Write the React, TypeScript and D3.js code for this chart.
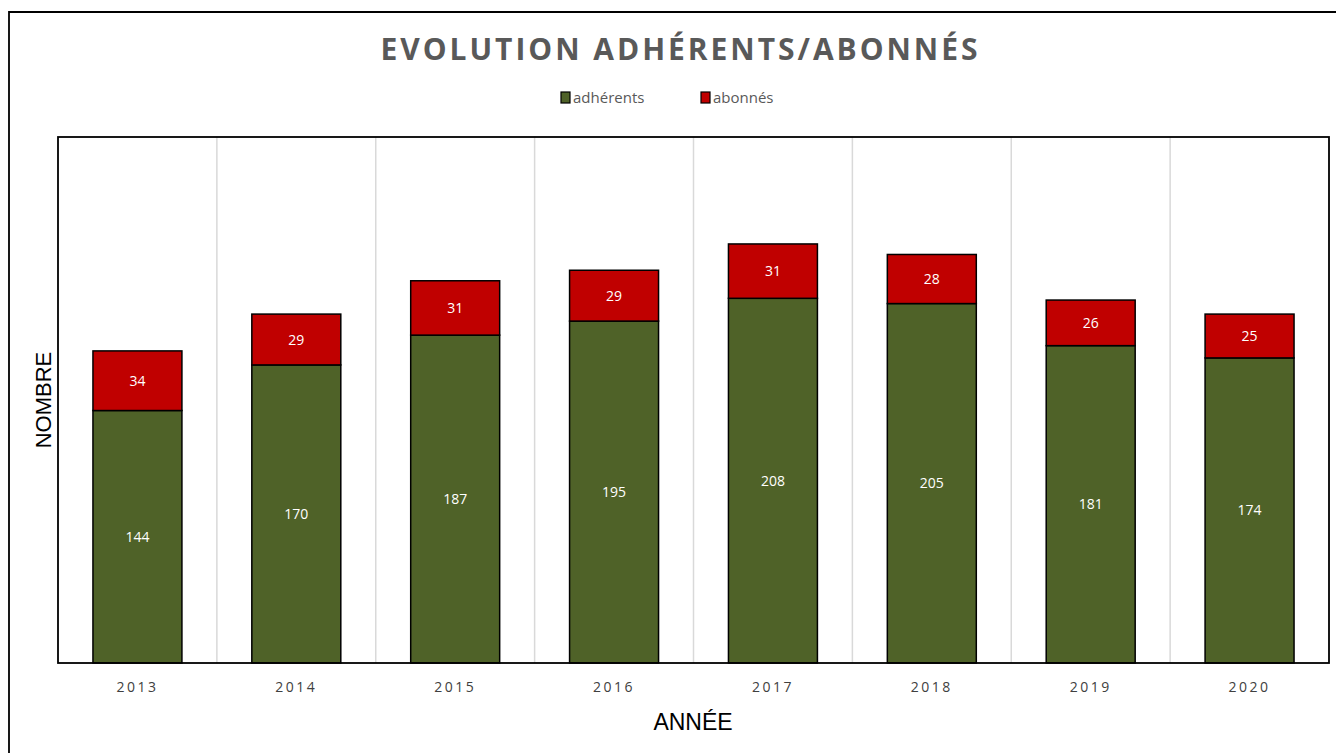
import React from "react";
import * as d3 from "d3";

const years = ["2013", "2014", "2015", "2016", "2017", "2018", "2019", "2020"];
const adherents = [144, 170, 187, 195, 208, 205, 181, 174];
const abonnes = [34, 29, 31, 29, 31, 28, 26, 25];
const seriesNames = ["adhérents", "abonnés"];
const seriesColors = ["#4F6228", "#C00000"];

const W = 1336;
const H = 753;
const margin = { left: 58, top: 137, right: 1329, bottom: 663 };

const App = () => {
  const x = d3
    .scaleBand<string>()
    .domain(years)
    .range([margin.left, margin.right])
    .paddingInner(0.44)
    .paddingOuter(0.22);
  const y = d3.scaleLinear().domain([0, 300]).range([margin.bottom, margin.top]);

  const rows = years.map((year, i) => ({ year, adherents: adherents[i], abonnes: abonnes[i] }));
  const stack = d3.stack<any>().keys(["adherents", "abonnes"]);
  const layers = stack(rows);

  const step = (margin.right - margin.left) / years.length;
  const grid = d3.range(1, years.length).map((i) => margin.left + i * step);

  return (
    <div style={{ position: "absolute", left: 0, top: 0 }}>
      <svg width={W} height={H} viewBox={`0 0 ${W} ${H}`} style={{ display: "block", background: "#fff" }}>
        {/* outer frame (cut off on right/bottom) */}
        <path d={`M${W},12 H9 V${H}`} fill="none" stroke="#000" strokeWidth={1.8} />

        <text
          x={679}
          y={60}
          textAnchor="middle"
          fontFamily="'Open Sans', sans-serif"
          fontWeight="bold"
          fontSize={30}
          fill="#595959"
          textLength={597}
          lengthAdjust="spacing"
        >
          EVOLUTION  ADHÉRENTS/ABONNÉS
        </text>

        {/* legend */}
        {seriesNames.map((name, i) => {
          const lx = i === 0 ? 561 : 701;
          return (
            <g key={name}>
              <rect x={lx} y={92} width={9} height={11} fill={seriesColors[i]} stroke="#000" strokeWidth={1.2} />
              <text x={lx + 12} y={103} fontFamily="'Liberation Sans Narrow', 'Open Sans', sans-serif" fontSize={15} fill="#595959">
                {name}
              </text>
            </g>
          );
        })}

        {/* gridlines */}
        {grid.map((gx) => (
          <line key={gx} x1={gx} x2={gx} y1={margin.top} y2={margin.bottom} stroke="#d9d9d9" strokeWidth={1.5} />
        ))}

        {/* bars */}
        {layers.map((layer, li) =>
          layer.map((d: any) => {
            const bx = x(d.data.year)!;
            const y0 = y(d[0]);
            const y1 = y(d[1]);
            return (
              <g key={`${li}-${d.data.year}`}>
                <rect
                  x={bx}
                  y={y1}
                  width={x.bandwidth()}
                  height={y0 - y1}
                  fill={seriesColors[li]}
                  stroke="#000"
                  strokeWidth={1.5}
                />
                <text
                  x={bx + x.bandwidth() / 2}
                  y={(y0 + y1) / 2 + 5}
                  textAnchor="middle"
                  fontFamily="'Open Sans', sans-serif"
                  fontSize={14}
                  fill="#fff"
                >
                  {d[1] - d[0]}
                </text>
              </g>
            );
          })
        )}

        {/* plot frame */}
        <rect
          x={margin.left}
          y={margin.top}
          width={margin.right - margin.left}
          height={margin.bottom - margin.top}
          fill="none"
          stroke="#000"
          strokeWidth={1.8}
        />

        {/* x tick labels */}
        {years.map((yr) => (
          <text
            key={yr}
            x={x(yr)! + x.bandwidth() / 2}
            y={692}
            textAnchor="middle"
            fontFamily="'Open Sans', sans-serif"
            fontSize={14}
            letterSpacing={2.5}
            fill="#404040"
          >
            {yr}
          </text>
        ))}

        {/* axis titles */}
        <text x={693} y={730} textAnchor="middle" fontFamily="'Liberation Sans', Arial, sans-serif" fontSize={23} fill="#000">
          ANNÉE
        </text>
        <text
          transform="translate(51,400) rotate(-90)"
          textAnchor="middle"
          fontFamily="'Liberation Sans', Arial, sans-serif"
          fontSize={22}
          fill="#000"
        >
          NOMBRE
        </text>
      </svg>
    </div>
  );
};

export default App;
